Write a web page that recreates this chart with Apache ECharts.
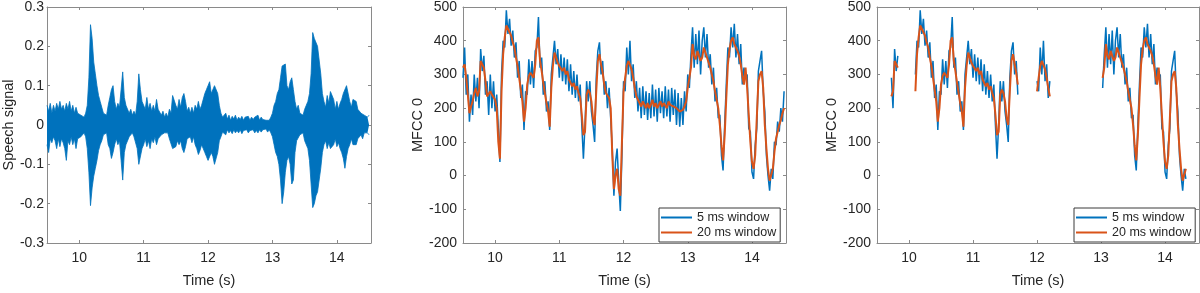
<!DOCTYPE html>
<html><head><meta charset="utf-8">
<script src="https://cdn.jsdelivr.net/npm/echarts@6/dist/echarts.min.js"></script>
<style>html,body{margin:0;padding:0;background:#fff}#c{width:1200px;height:293px}</style>
</head><body><div id="c"></div>
<script>
// ---- data ----
const timeStart = 9.5;
const timeStep = 0.025;
const xTicks = [10, 11, 12, 13, 14];
const xLabel = 'Time (s)';
const yLabelSpeech = 'Speech signal';
const yLabelMfcc = 'MFCC 0';
const legendNames = ['5 ms window', '20 ms window'];

// upper / lower envelope of the speech waveform
const speechUpper = [
0.05,0.035,0.055,0.03,0.05,0.035,0.055,0.04,0.06,0.04,
0.05,0.035,0.055,0.04,0.06,0.035,0.05,0.03,0.045,0.03,
0.035,0.025,0.03,0.02,0.03,0.05,0.12,0.255,0.22,0.16,
0.13,0.1,0.075,0.06,0.045,0.03,0.035,0.025,0.05,0.07,
0.09,0.1,0.06,0.04,0.055,0.045,0.09,0.135,0.07,0.05,
0.045,0.03,0.04,0.025,0.035,0.025,0.06,0.13,0.09,0.06,
0.055,0.04,0.07,0.04,0.055,0.035,0.05,0.035,0.065,0.04,
0.04,0.025,0.035,0.02,0.03,0.02,0.04,0.03,0.075,0.07,
0.05,0.04,0.065,0.045,0.07,0.08,0.06,0.035,0.045,0.03,
0.045,0.03,0.05,0.04,0.06,0.04,0.05,0.045,0.08,0.09,
0.1,0.11,0.08,0.085,0.1,0.1,0.08,0.05,0.03,0.02,
0.025,0.03,0.015,0.025,0.012,0.022,0.015,0.025,0.012,0.02,
0.014,0.022,0.012,0.02,0.015,0.022,0.012,0.02,0.014,0.02,
0.015,0.025,0.012,0.02,0.014,0.018,0.012,0.015,0.012,0.02,
0.03,0.05,0.06,0.08,0.09,0.12,0.15,0.155,0.155,0.1,
0.09,0.11,0.12,0.09,0.06,0.04,0.05,0.03,0.035,0.025,
0.04,0.05,0.06,0.08,0.13,0.235,0.22,0.215,0.2,0.205,
0.13,0.08,0.06,0.045,0.075,0.055,0.085,0.09,0.065,0.04,
0.06,0.04,0.055,0.065,0.08,0.085,0.1,0.1,0.06,0.045,
0.065,0.07,0.06,0.04,0.045,0.03,0.035,0.025,0.03,0.02,
0.025];
const speechLower = [
-0.05,-0.07,-0.035,-0.045,-0.03,-0.04,-0.06,-0.035,-0.055,-0.035,
-0.045,-0.06,-0.09,-0.04,-0.05,-0.03,-0.05,-0.035,-0.06,-0.035,
-0.04,-0.03,-0.035,-0.02,-0.03,-0.06,-0.12,-0.205,-0.16,-0.13,
-0.11,-0.09,-0.065,-0.05,-0.04,-0.025,-0.03,-0.02,-0.05,-0.06,
-0.085,-0.07,-0.05,-0.035,-0.05,-0.04,-0.09,-0.14,-0.07,-0.05,
-0.045,-0.03,-0.035,-0.02,-0.03,-0.025,-0.06,-0.1,-0.1,-0.06,
-0.05,-0.035,-0.055,-0.04,-0.06,-0.035,-0.045,-0.03,-0.05,-0.035,
-0.04,-0.025,-0.03,-0.02,-0.025,-0.02,-0.035,-0.03,-0.06,-0.065,
-0.055,-0.04,-0.05,-0.04,-0.06,-0.07,-0.055,-0.035,-0.04,-0.03,
-0.045,-0.03,-0.05,-0.06,-0.075,-0.065,-0.05,-0.06,-0.07,-0.08,
-0.09,-0.085,-0.07,-0.08,-0.1,-0.095,-0.07,-0.04,-0.03,-0.018,
-0.02,-0.025,-0.012,-0.02,-0.014,-0.022,-0.012,-0.02,-0.014,-0.02,
-0.012,-0.022,-0.014,-0.018,-0.012,-0.02,-0.014,-0.018,-0.012,-0.02,
-0.014,-0.02,-0.012,-0.018,-0.012,-0.015,-0.01,-0.018,-0.012,-0.02,
-0.03,-0.05,-0.07,-0.08,-0.1,-0.14,-0.2,-0.17,-0.12,-0.09,
-0.08,-0.1,-0.15,-0.14,-0.07,-0.04,-0.04,-0.025,-0.03,-0.02,
-0.04,-0.045,-0.06,-0.09,-0.15,-0.21,-0.2,-0.18,-0.17,-0.165,
-0.11,-0.07,-0.05,-0.04,-0.06,-0.045,-0.06,-0.065,-0.05,-0.035,
-0.055,-0.045,-0.06,-0.07,-0.085,-0.11,-0.08,-0.06,-0.05,-0.035,
-0.05,-0.055,-0.05,-0.035,-0.04,-0.025,-0.035,-0.02,-0.025,-0.02,
-0.025];

// MFCC 0 with 5 ms window (blue)
const mfcc5ms = [
290,380,240,300,160,240,180,300,220,290,
200,375,310,355,240,280,180,300,200,280,
190,240,140,40,300,400,380,490,420,465,
385,430,350,395,290,340,230,270,135,250,
240,345,270,340,260,370,380,470,320,350,
240,280,190,220,135,300,300,400,330,375,
290,360,280,350,270,345,250,330,240,310,
230,300,220,270,150,50,150,280,220,280,
190,150,100,290,370,395,300,340,240,280,
200,260,170,80,-60,40,80,-20,-105,60,
280,250,380,300,400,280,330,230,280,190,
260,170,265,180,250,165,245,170,270,175,
255,160,260,185,250,170,265,175,255,160,
260,180,255,150,245,145,230,150,250,190,
300,260,360,440,320,420,330,430,300,400,
440,350,420,320,360,270,320,220,260,170,
180,60,15,150,270,380,350,440,380,450,
350,420,330,390,270,320,290,300,140,130,
10,-10,90,140,310,340,370,250,190,60,
0,-45,20,-10,100,90,160,130,200,160,
250];
// MFCC 0 with 20 ms window (orange)
const mfcc20ms = [
320,330,290,240,185,205,220,245,260,235,
250,340,335,320,280,235,240,250,240,235,
225,200,100,50,250,360,410,445,440,425,
415,395,380,350,325,290,255,220,160,200,
270,295,305,300,290,330,400,410,340,310,
275,245,215,190,145,260,325,365,360,335,
325,330,310,320,300,310,285,290,265,275,
255,265,245,230,180,120,130,240,255,245,
220,170,150,250,340,360,330,305,270,245,
240,230,200,60,-40,0,20,-40,-60,100,
250,290,325,340,340,315,290,260,235,225,
215,205,220,210,200,215,200,210,225,205,
215,200,210,220,205,215,210,200,220,210,
215,205,210,200,205,190,185,195,205,220,
260,290,320,390,355,345,370,355,340,350,
380,375,350,355,320,300,280,250,225,200,
150,90,45,120,230,330,375,400,410,390,
380,370,355,330,295,270,320,260,180,100,
40,20,60,170,280,300,310,260,150,80,
20,-15,-10,20,70,110,130,150,165,185,
200];
// stretches kept in the third panel (voiced parts)
const voicedSegments = [[9.725, 9.825], [10.1, 11.7], [12.0, 12.2], [13.025, 14.325]];

// ---- build ----
const FONT = '"Liberation Sans", Arial, Helvetica, sans-serif';
const BLUE = '#0072BD', ORANGE = '#D95319';
const AX = '#8a8a8a', TXT = '#262626';
const times = speechUpper.map((_, i) => +(timeStart + i * timeStep).toFixed(3));
const pairs = (arr) => arr.map((v, i) => [times[i], v]);
const isVoiced = (t) => voicedSegments.some(s => t >= s[0] - 1e-6 && t <= s[1] + 1e-6);
const masked = (arr) => arr.map((v, i) => [times[i], isVoiced(times[i]) ? v : '-']);

const grids = [
  {left: 47, top: 5, width: 324, height: 246},
  {left: 463, top: 5, width: 323, height: 245},
  {left: 877, top: 5, width: 322, height: 245}
];

function xAxis(gi, pos, main) {
  return {
    type: 'value', gridIndex: gi, position: pos, min: 9.5, max: 14.53,
    name: main ? xLabel : '', nameLocation: 'middle', nameGap: 30,
    nameTextStyle: {fontFamily: FONT, fontSize: 14.5, color: TXT},
    axisLine: {show: true, onZero: false, lineStyle: {color: AX, width: 1}},
    axisTick: {show: true, inside: true, length: 3, customValues: xTicks, lineStyle: {color: AX}},
    axisLabel: {show: main, customValues: xTicks, margin: 8, fontFamily: FONT, fontSize: 14, color: TXT},
    splitLine: {show: false}
  };
}
function yAxis(gi, pos, main, min, max, interval, name, gap, lmargin) {
  return {
    type: 'value', gridIndex: gi, position: pos, min: min, max: max, interval: interval,
    name: main ? name : '', nameLocation: 'middle', nameGap: gap,
    nameTextStyle: {fontFamily: FONT, fontSize: 14.5, color: TXT},
    axisLine: {show: true, onZero: false, lineStyle: {color: AX, width: 1}},
    axisTick: {show: true, inside: true, length: 3, lineStyle: {color: AX}},
    axisLabel: {show: main, margin: lmargin, fontFamily: FONT, fontSize: 14, color: TXT},
    splitLine: {show: false}
  };
}

const xAxes = [], yAxes = [];
grids.forEach((g, gi) => {
  xAxes.push(xAxis(gi, 'bottom', true));
  xAxes.push(xAxis(gi, 'top', false));
});
yAxes.push(yAxis(0, 'left', true, -0.3, 0.3, 0.1, yLabelSpeech, 30, 3));
yAxes.push(yAxis(0, 'right', false, -0.3, 0.3, 0.1, '', 0, 3));
yAxes.push(yAxis(1, 'left', true, -200, 500, 100, yLabelMfcc, 36, 6));
yAxes.push(yAxis(1, 'right', false, -200, 500, 100, '', 0, 6));
yAxes.push(yAxis(2, 'left', true, -200, 500, 100, yLabelMfcc, 36, 6));
yAxes.push(yAxis(2, 'right', false, -200, 500, 100, '', 0, 6));

function line(name, data, xi, yi, color, width, extra) {
  return Object.assign({
    type: 'line', name: name, data: data, xAxisIndex: xi, yAxisIndex: yi,
    symbol: 'none', showSymbol: false, connectNulls: false, animation: false,
    lineStyle: {color: color, width: width}, itemStyle: {color: color}, z: 2
  }, extra || {});
}

const series = [
  line('speech hi', pairs(speechUpper), 0, 0, BLUE, 0.8, {areaStyle: {color: BLUE, opacity: 1}}),
  line('speech lo', pairs(speechLower), 0, 0, BLUE, 0.8, {areaStyle: {color: BLUE, opacity: 1}}),
  line(legendNames[0], pairs(mfcc5ms), 2, 2, BLUE, 1.5),
  line(legendNames[1], pairs(mfcc20ms), 2, 2, ORANGE, 2, {z: 3}),
  line(legendNames[0], masked(mfcc5ms), 4, 4, BLUE, 1.5),
  line(legendNames[1], masked(mfcc20ms), 4, 4, ORANGE, 2, {z: 3})
];

function legend(left) {
  return {
    data: legendNames, orient: 'vertical', left: left, top: 208,
    icon: 'rect', itemWidth: 31, itemHeight: 2, itemGap: 0,
    padding: [2, 4, 2, 2], backgroundColor: '#fff',
    borderColor: '#3a3a3a', borderWidth: 1, borderRadius: 0,
    selectedMode: false,
    textStyle: {fontFamily: FONT, fontSize: 12.5, color: TXT, lineHeight: 15}
  };
}

const chart = echarts.init(document.getElementById('c'), null, {renderer: 'canvas'});
chart.setOption({
  backgroundColor: '#fff',
  animation: false,
  grid: grids,
  xAxis: xAxes,
  yAxis: yAxes,
  legend: [legend(659), legend(1074)],
  series: series
});
</script></body></html>
